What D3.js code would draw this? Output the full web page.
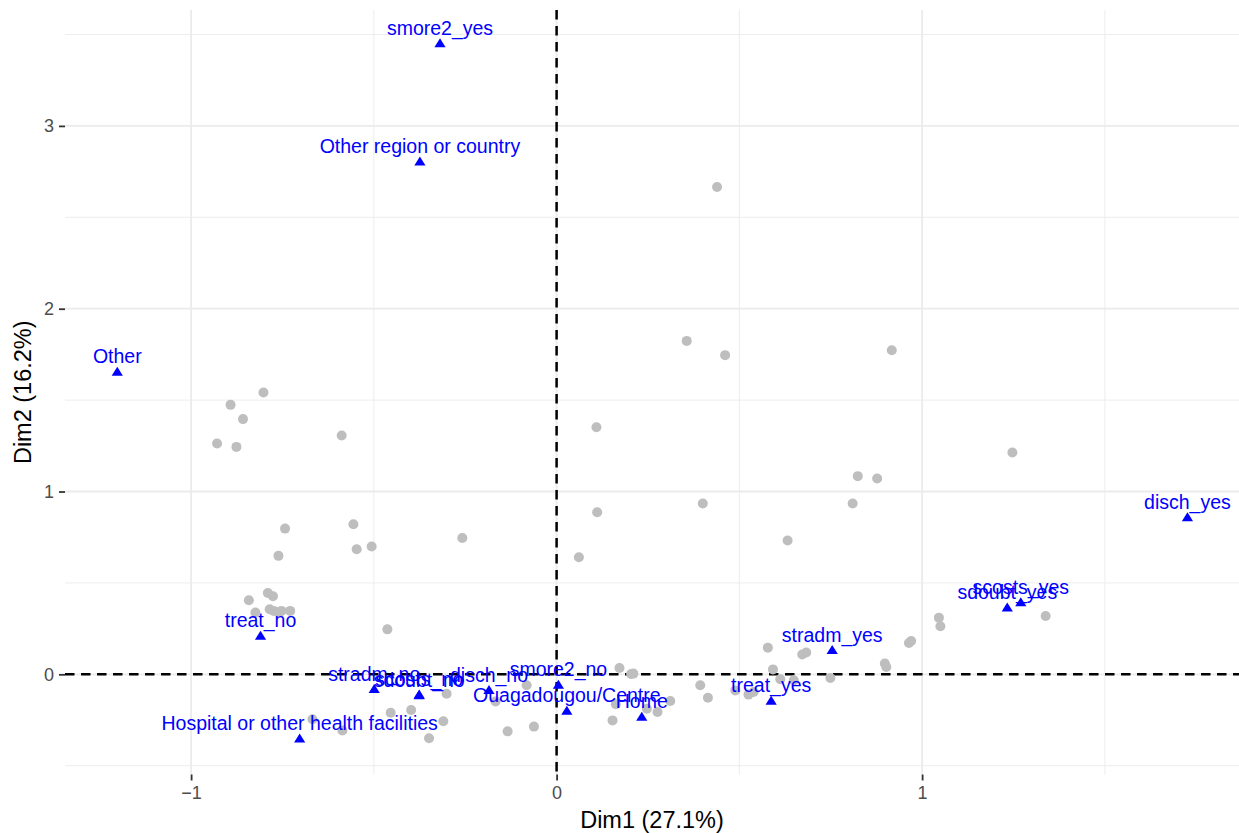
<!DOCTYPE html>
<html>
<head>
<meta charset="utf-8">
<script src="https://cdn.jsdelivr.net/npm/d3@7"></script>
<style>
  body { margin: 0; background: #fff; }
  svg { display: block; font-family: "Liberation Sans", Arial, sans-serif; }
</style>
</head>
<body>
<svg id="chart" width="1239" height="833"></svg>
<script>
// individuals (grey dots)
const indX = [-0.802, -0.892, -0.858, -0.929, -0.876, -0.588, -0.743, -0.556, -0.258, -0.761,
  -0.547, -0.506, -0.842, -0.790, -0.776, -0.824, -0.785, -0.774, -0.753, -0.729,
  -0.760, -0.463, -0.454, -0.398, -0.668, -0.586, -0.301, -0.310, -0.349, -0.134,
  -0.062, -0.082, -0.167, 0.172, 0.204, 0.210, 0.153, 0.162, 0.276, 0.311,
  0.247, 0.393, 0.414, 0.578, 0.592, 0.612, 0.649, 0.672, 0.683, 0.749,
  0.898, 0.902, 0.489, 0.525, 0.539, 0.964, 0.970, 1.046, 1.050, 1.338,
  1.247, 0.824, 0.877, 0.810, 0.356, 0.461, 0.917, 0.109, 0.400, 0.111,
  0.632, 0.061, 0.439];
const indY = [1.542, 1.474, 1.396, 1.263, 1.244, 1.306, 0.797, 0.821, 0.746, 0.648,
  0.684, 0.699, 0.405, 0.445, 0.427, 0.338, 0.356, 0.347, 0.347, 0.347,
  0.338, 0.246, -0.210, -0.195, -0.246, -0.307, -0.106, -0.257, -0.350, -0.312,
  -0.286, -0.060, -0.148, 0.035, 0.002, 0.004, -0.252, -0.164, -0.206, -0.146,
  -0.188, -0.060, -0.128, 0.146, 0.027, -0.027, -0.033, 0.108, 0.119, -0.020,
  0.059, 0.040, -0.088, -0.111, -0.097, 0.171, 0.182, 0.310, 0.263, 0.319,
  1.213, 1.084, 1.071, 0.934, 1.824, 1.746, 1.773, 1.352, 0.934, 0.887,
  0.732, 0.640, 2.666];

// variable categories (blue triangles)
const catNames = ["smore2_yes", "Other region or country", "Other", "treat_no", "stradm_no",
  "scosts_no", "sdoubt_no", "disch_no", "smore2_no", "Ouagadougou/Centre", "Home",
  "Hospital or other health facilities", "treat_yes", "stradm_yes", "sdoubt_yes",
  "scosts_yes", "disch_yes"];
const catX = [-0.319, -0.374, -1.202, -0.810, -0.499, -0.376, -0.376, -0.185, 0.005, 0.028,
  0.233, -0.703, 0.587, 0.754, 1.233, 1.270, 1.726];
const catY = [3.454, 2.808, 1.658, 0.213, -0.078, -0.108, -0.112, -0.084, -0.055, -0.197,
  -0.230, -0.349, -0.142, 0.135, 0.368, 0.396, 0.861];

const xTicks = [-1, 0, 1];
const yTicks = [0, 1, 2, 3];
const xMinor = [-0.5, 0.5, 1.5];
const yMinor = [-0.5, 0.5, 1.5, 2.5, 3.5];

const svg = d3.select('#chart');
const pLeft = 65, pRight = 1239, pTop = 10, pBottom = 774.5;

const x = d3.scaleLinear().domain([-1.345, 1.867]).range([pLeft, pRight]);
const y = d3.scaleLinear().domain([-0.548, 3.634]).range([pBottom, pTop]);

const grid = svg.append('g');
grid.selectAll('.vminor').data(xMinor).enter().append('line')
  .attr('x1', d => x(d)).attr('x2', d => x(d)).attr('y1', pTop).attr('y2', pBottom)
  .attr('stroke', '#ebebeb').attr('stroke-width', 0.9);
grid.selectAll('.hminor').data(yMinor).enter().append('line')
  .attr('y1', d => y(d)).attr('y2', d => y(d)).attr('x1', pLeft).attr('x2', pRight)
  .attr('stroke', '#ebebeb').attr('stroke-width', 0.9);
grid.selectAll('.vmajor').data(xTicks).enter().append('line')
  .attr('x1', d => x(d)).attr('x2', d => x(d)).attr('y1', pTop).attr('y2', pBottom)
  .attr('stroke', '#ebebeb').attr('stroke-width', 1.8);
grid.selectAll('.hmajor').data(yTicks).enter().append('line')
  .attr('y1', d => y(d)).attr('y2', d => y(d)).attr('x1', pLeft).attr('x2', pRight)
  .attr('stroke', '#ebebeb').attr('stroke-width', 1.8);

// axes
const fmt = d => d < 0 ? '\u2212' + Math.abs(d) : String(d);
const xAxis = svg.append('g')
  .attr('transform', 'translate(0,' + pBottom + ')')
  .call(d3.axisBottom(x).tickValues(xTicks).tickSize(6).tickPadding(6).tickFormat(fmt));
const yAxis = svg.append('g')
  .attr('transform', 'translate(' + pLeft + ',0)')
  .call(d3.axisLeft(y).tickValues(yTicks).tickSize(6).tickPadding(5).tickFormat(fmt));
[xAxis, yAxis].forEach(a => {
  a.select('.domain').remove();
  a.selectAll('.tick line').attr('stroke', '#333333').attr('stroke-width', 1.8);
  a.selectAll('.tick text').attr('fill', '#4d4d4d')
    .style('font-size', '18px').style('font-family', '"Liberation Sans", Arial, sans-serif');
});
xAxis.selectAll('.tick text').attr('dy', '0.71em');

// reference lines
svg.append('line')
  .attr('x1', pLeft).attr('x2', pRight).attr('y1', y(0)).attr('y2', y(0))
  .attr('stroke', '#000').attr('stroke-width', 2.5).attr('stroke-dasharray', '9.5,6.5');
svg.append('line')
  .attr('x1', x(0)).attr('x2', x(0)).attr('y1', pTop).attr('y2', pBottom)
  .attr('stroke', '#000').attr('stroke-width', 2.5).attr('stroke-dasharray', '9.5,6.5');

// individuals
svg.append('g').selectAll('circle').data(indX).enter().append('circle')
  .attr('cx', d => x(d))
  .attr('cy', (d, i) => y(indY[i]))
  .attr('r', 5)
  .attr('fill', '#bebebe');

// categories
const cats = catNames.map((name, i) => ({name, x: catX[i], y: catY[i]}));
const tri = 'M0,-4.6L5.6,4.4L-5.6,4.4Z';
svg.append('g').selectAll('path').data(cats).enter().append('path')
  .attr('d', tri)
  .attr('transform', d => 'translate(' + x(d.x) + ',' + y(d.y) + ')')
  .attr('fill', '#0000ff');
svg.append('g').selectAll('text').data(cats).enter().append('text')
  .attr('x', d => x(d.x))
  .attr('y', d => y(d.y) - 8)
  .attr('text-anchor', 'middle')
  .attr('fill', '#0000ff')
  .style('font-size', '19.5px')
  .text(d => d.name);

// axis titles
svg.append('text')
  .attr('x', (pLeft + pRight) / 2).attr('y', 828)
  .attr('text-anchor', 'middle')
  .style('font-size', '23.5px')
  .text('Dim1 (27.1%)');
svg.append('text')
  .attr('transform', 'translate(31,' + (pTop + pBottom) / 2 + ') rotate(-90)')
  .attr('text-anchor', 'middle')
  .style('font-size', '23.5px')
  .text('Dim2 (16.2%)');
</script>
</body>
</html>
